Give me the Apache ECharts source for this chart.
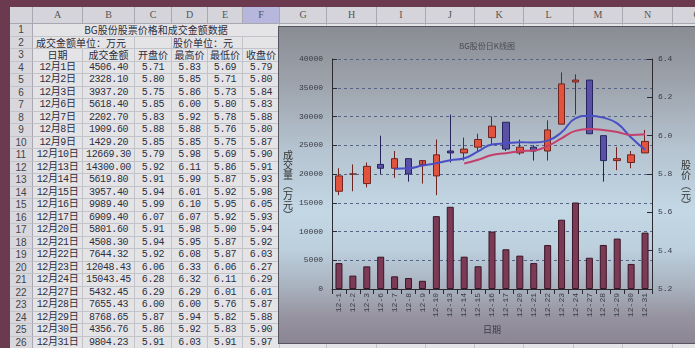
<!DOCTYPE html>
<html><head><meta charset="utf-8">
<script src="https://cdn.jsdelivr.net/npm/echarts@6/dist/echarts.min.js"></script>
<style>
html,body{margin:0;padding:0;width:695px;height:348px;overflow:hidden;background:#e2e2e5;}
#frame-top{position:absolute;left:0;top:0;width:695px;height:7px;background:#6c3a4e;}
#frame-left{position:absolute;left:0;top:0;width:10px;height:348px;background:#6c3a4e;}
.c{position:absolute;box-sizing:border-box;border-right:1px solid #c3c3ca;border-bottom:1px solid #c3c3ca;
   font-family:"Liberation Mono","Noto Sans CJK SC",monospace;font-size:10px;letter-spacing:-0.4px;color:#2e2e3e;
   text-align:center;white-space:nowrap;overflow:visible;background:#e4e4e7;line-height:12px;}
.h{background:#d6d4db;border-right:1px solid #a9a7b2;border-bottom:1px solid #a9a7b2;color:#555;font-family:"Liberation Serif",serif;line-height:16px;letter-spacing:0;}
.sel{background:#b7b6dd;}
.rn{background:#d9d7de;border-right:1px solid #a9a7b2;color:#444;font-family:"Liberation Sans",sans-serif;font-size:10px;letter-spacing:0;}
.cj{font-family:"Noto Sans CJK SC",sans-serif;letter-spacing:0;}
#chart{position:absolute;left:279px;top:27px;width:416px;height:316px;
  box-shadow:0 0 0 1px #55555f;
  background:linear-gradient(to bottom,#8a8c93 0%,#9da3ac 18%,#b4c3cf 38%,#c3d7e5 58%,#bdd0de 70%,#a9b2bf 82%,#96929f 92%,#8b8594 100%);}
</style></head>
<body>
<div id="sheet"></div>
<div id="frame-top"></div>
<div id="frame-left"></div>
<div id="chart"></div>
<script>
// ---------- data ----------
const dates = ['12月1日','12月2日','12月3日','12月6日','12月7日','12月8日','12月9日','12月10日','12月13日','12月14日','12月15日','12月16日','12月17日','12月20日','12月21日','12月22日','12月23日','12月24日','12月27日','12月28日','12月29日','12月30日','12月31日'];
const tickLabels = ['12-1','12-2','12-3','12-6','12-7','12-8','12-9','12-10','12-13','12-14','12-15','12-16','12-17','12-20','12-21','12-22','12-23','12-24','12-27','12-28','12-29','12-30','12-31'];
const volume = [4506.40,2328.10,3937.20,5618.40,2202.70,1909.60,1429.20,12669.30,14300.00,5619.80,3957.40,9989.40,6909.40,5801.60,4508.30,7644.32,12048.43,15043.45,5432.45,7655.43,8768.65,4356.76,9804.23];
const openP  = [5.71,5.80,5.75,5.85,5.83,5.88,5.85,5.79,5.92,5.91,5.94,5.99,6.07,5.91,5.94,5.92,6.06,6.28,6.29,6.00,5.87,5.86,5.91];
const highP  = [5.83,5.85,5.86,6.00,5.92,5.88,5.85,5.98,6.11,5.99,6.01,6.10,6.07,5.98,5.95,6.08,6.33,6.32,6.29,6.00,5.94,5.92,6.03];
const lowP   = [5.69,5.71,5.73,5.80,5.78,5.76,5.75,5.69,5.86,5.87,5.92,5.95,5.92,5.90,5.87,5.87,6.06,6.11,6.01,5.76,5.82,5.83,5.91];
const closeP = [5.79,5.80,5.84,5.83,5.88,5.80,5.87,5.90,5.91,5.93,5.98,6.05,5.93,5.94,5.92,6.03,6.27,6.29,6.01,5.87,5.88,5.90,5.97];
const ma5  = ['-','-','-','-',5.828,5.830,5.844,5.856,5.872,5.882,5.918,5.954,5.960,5.966,5.964,5.974,6.018,6.090,6.104,6.094,6.064,5.990,5.926];
const ma10 = ['-','-','-','-','-','-','-','-','-',5.855,5.874,5.899,5.908,5.919,5.923,5.946,5.986,6.025,6.035,6.029,6.019,6.004,6.008];
const volTicks = [0,40000,5000];
const priceTicks = [5.2,6.4,0.2];
const chartTitle = 'BG股份日K线图';
const volAxisName = '成交量（万元）';
const priceAxisName = '股价（元）';
const xAxisName = '日期';
const sheetTitle = 'BG股份股票价格和成交金额数据';
const unitVol = '成交金额单位：万元';
const unitPrice = '股价单位：元';
const headers = ['日期','成交金额','开盘价','最高价','最低价','收盘价'];

// ---------- spreadsheet ----------
const sheet = document.getElementById('sheet');
const colX = [10,33,83,135,172,208,243,280,327,377,426,475,524,574,623,673,722];
const colNames = ['','A','B','C','D','E','F','G','H','I','J','K','L','M','N','O'];
const RH = 12.5, R0 = 24;
function cell(x,y,w,h,txt,cls){
  const d=document.createElement('div');
  d.className='c '+(cls||'');
  d.style.left=x+'px';d.style.top=y+'px';d.style.width=w+'px';d.style.height=h+'px';
  d.textContent=txt;sheet.appendChild(d);return d;
}
for(let i=0;i<colNames.length;i++){
  cell(colX[i],7,colX[i+1]-colX[i],17,colNames[i],'h'+(colNames[i]==='F'?' sel':''));
}
function span(r,c1,c2){return [colX[c1], R0+(r-1)*RH, colX[c2+1]-colX[c1], RH];}
for(let r=1;r<=27;r++){
  const y=R0+(r-1)*RH;
  cell(colX[0],y,colX[1]-colX[0],RH,String(r),'rn');
  for(let c=7;c<colNames.length;c++) cell(colX[c],y,colX[c+1]-colX[c],RH,'');
  if(r===1){ const s=span(1,1,6); cell(s[0],s[1],s[2],s[3],sheetTitle,'cj'); }
  else if(r===2){
    let s=span(2,1,2); const a=cell(s[0],s[1],s[2],s[3],unitVol,'cj'); a.style.textAlign='left'; a.style.paddingLeft='3px';
    s=span(2,3,3); cell(s[0],s[1],s[2],s[3],'');
    s=span(2,4,5); const b=cell(s[0],s[1],s[2],s[3],unitPrice,'cj'); b.style.textAlign='left'; b.style.paddingLeft='1px';
    s=span(2,6,6); cell(s[0],s[1],s[2],s[3],'');
  } else if(r===3){
    for(let c=1;c<=6;c++){ const s=span(3,c,c); cell(s[0],s[1],s[2],s[3],headers[c-1],'cj'); }
  } else if(r<=26){
    const i=r-4;
    const vals=[dates[i],volume[i].toFixed(2),openP[i].toFixed(2),highP[i].toFixed(2),lowP[i].toFixed(2),closeP[i].toFixed(2)];
    for(let c=1;c<=6;c++){ const s=span(r,c,c); cell(s[0],s[1],s[2],s[3],vals[c-1]); }
  } else {
    for(let c=1;c<=6;c++){ const s=span(r,c,c); cell(s[0],s[1],s[2],s[3],''); }
  }
}

// ---------- chart ----------
const chart = echarts.init(document.getElementById('chart'));
const ohlc = dates.map((d,i)=>[openP[i],closeP[i],lowP[i],highP[i]]);
const axisCol = '#2a2a30';
const mono = 'Liberation Mono';
// vertical (stacked) title text, with vertical-form brackets
const vert = s => s.replace('（','︵').replace('）','︶').split('').join('\n');
const nameStyle = {fontSize:10,lineHeight:10,fill:'#333',fontFamily:'Noto Sans CJK SC',align:'center',verticalAlign:'middle'};
chart.setOption({
  animation:false,
  backgroundColor:'transparent',
  title:{text:chartTitle,left:'center',top:10,
    textStyle:{fontSize:8,fontWeight:'normal',color:'#4a4a55',fontFamily:'Noto Sans CJK SC'}},
  grid:{left:53,right:43,top:32,bottom:54},
  graphic:[
    {type:'text',left:4,top:'middle',style:Object.assign({text:vert(volAxisName)},nameStyle)},
    {type:'text',right:4,top:'middle',style:Object.assign({text:vert(priceAxisName)},nameStyle)}
  ],
  xAxis:{type:'category',data:tickLabels,boundaryGap:true,
    axisLine:{lineStyle:{color:axisCol}},
    axisTick:{show:true,interval:0,lineStyle:{color:axisCol}},
    axisLabel:{interval:0,rotate:90,fontSize:8,color:'#3a3a44',margin:4,fontFamily:mono},
    name:xAxisName,nameLocation:'middle',nameGap:36,
    nameTextStyle:{fontSize:9,color:'#3a3a44',fontFamily:'Noto Sans CJK SC'}},
  yAxis:[
    {type:'value',min:volTicks[0],max:volTicks[1],interval:volTicks[2],position:'left',
     axisLine:{show:true,lineStyle:{color:axisCol}},
     axisTick:{show:true,inside:true,lineStyle:{color:axisCol}},
     axisLabel:{fontSize:8,color:'#3a3a44',margin:9,fontFamily:mono,formatter:v=>String(v)},
     splitLine:{show:true,lineStyle:{type:[3,3],color:'#56648a',width:1}}},
    {type:'value',min:priceTicks[0],max:priceTicks[1],interval:priceTicks[2],position:'right',
     axisLine:{show:true,lineStyle:{color:axisCol}},
     axisTick:{show:true,inside:true,lineStyle:{color:axisCol}},
     axisLabel:{fontSize:8,color:'#3a3a44',margin:6,fontFamily:mono,formatter:v=>v.toFixed(1)},
     splitLine:{show:false}}
  ],
  series:[
    {type:'bar',yAxisIndex:0,data:volume,barWidth:7,
     itemStyle:{color:'#7b3a56',borderColor:'#3a1626',borderWidth:1}},
    {type:'candlestick',yAxisIndex:1,data:ohlc,barWidth:7,
     itemStyle:{color:'#e2533e',color0:'#5a50a6',borderColor:'#6e2420',borderColor0:'#26245c',borderWidth:1}},
    {type:'line',yAxisIndex:1,data:ma5,smooth:true,showSymbol:false,
     lineStyle:{color:'#4a4fc4',width:2}},
    {type:'line',yAxisIndex:1,data:ma10,smooth:true,showSymbol:false,
     lineStyle:{color:'#c4406c',width:2}}
  ]
});
</script>
</body></html>
